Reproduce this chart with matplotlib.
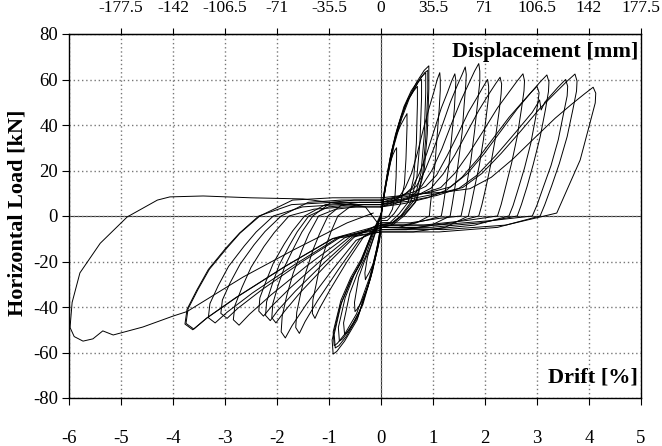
import numpy as np
import matplotlib.pyplot as plt

plt.rcParams['font.family'] = ['Liberation Serif', 'DejaVu Serif']
plt.rcParams['axes.unicode_minus'] = False

# axis ticks
drift_ticks = [-6, -5, -4, -3, -2, -1, 0, 1, 2, 3, 4, 5]
load_ticks = [-80, -60, -40, -20, 0, 20, 40, 60, 80]
mm_ticks = [-177.5, -142, -106.5, -71, -35.5, 0, 35.5, 71, 106.5, 142, 177.5]
mm_labels = ['-177.5', '-142', '-106.5', '-71', '-35.5', '0', '35.5', '71', '106.5', '142', '177.5']
mm_per_drift = 35.5

# small cycles (drift %, load kN)
cyc_s1 = [(0, 0), (0.03, 6), (0.08, 13), (0.12, 18), (0.17, 23), (0.23, 27), (0.27, 29), (0.3, 30),
          (0.3, 26), (0.29, 17), (0.27, 9), (0.22, 3), (0.15, 0), (0.07, -1), (0, -1),
          (-0.01, -5), (-0.07, -13), (-0.15, -21), (-0.23, -25), (-0.28, -27), (-0.3, -28),
          (-0.31, -25), (-0.26, -18), (-0.19, -13), (-0.13, -9), (-0.06, -4), (0, 0)]
cyc_s2 = [(0, 0), (0.05, 9), (0.13, 20), (0.2, 28), (0.28, 35), (0.38, 40), (0.45, 43), (0.5, 45),
          (0.5, 39), (0.48, 25), (0.45, 14), (0.37, 5), (0.25, 1), (0.12, -2), (0, -2),
          (-0.02, -7), (-0.12, -19), (-0.25, -31), (-0.38, -38), (-0.46, -41), (-0.5, -42),
          (-0.51, -38), (-0.43, -27), (-0.32, -20), (-0.21, -14), (-0.1, -6), (0, 0)]
cyc_s3 = [(0, 0), (0.07, 11), (0.17, 25), (0.28, 36), (0.39, 44), (0.52, 51), (0.63, 55), (0.7, 57),
          (0.7, 49), (0.68, 32), (0.63, 17), (0.52, 6), (0.35, 1), (0.17, -3), (0, -3),
          (-0.02, -9), (-0.16, -24), (-0.35, -39), (-0.53, -47), (-0.65, -51), (-0.7, -52),
          (-0.72, -47), (-0.6, -34), (-0.45, -25), (-0.3, -18), (-0.15, -8), (0, 0)]
cyc_s7 = [(0, -1), (0.08, 12), (0.2, 28), (0.32, 39), (0.44, 48), (0.58, 55), (0.7, 59), (0.78, 60),
          (0.78, 52), (0.75, 33), (0.69, 17), (0.57, 6), (0.38, 0), (0.19, -4), (0, -5),
          (-0.03, -11), (-0.19, -26), (-0.41, -42), (-0.61, -50), (-0.74, -54), (-0.8, -55),
          (-0.82, -49), (-0.69, -36), (-0.52, -26), (-0.35, -19), (-0.17, -8), (0, 0)]
cyc_s4 = [(0, 0), (0.08, 12), (0.21, 28), (0.34, 40), (0.47, 49), (0.64, 56), (0.77, 61), (0.86, 63),
          (0.86, 54), (0.83, 35), (0.77, 19), (0.64, 7), (0.43, 1), (0.21, -3), (0, -4),
          (-0.03, -10), (-0.2, -27), (-0.44, -44), (-0.67, -53), (-0.81, -57), (-0.88, -58),
          (-0.9, -52), (-0.76, -38), (-0.57, -28), (-0.38, -20), (-0.19, -9), (0, 0)]
cyc_s5 = [(0, 0), (0.09, 13), (0.23, 30), (0.37, 42), (0.51, 51), (0.69, 59), (0.83, 64), (0.92, 66),
          (0.92, 56), (0.89, 36), (0.83, 20), (0.69, 7), (0.46, 1), (0.23, -3), (0, -4),
          (-0.03, -10), (-0.06, -14), (-0.21, -28), (-0.46, -45.7), (-0.7, -55), (-0.85, -59.5), (-0.92, -60.7),
          (-0.94, -54.5), (-0.79, -40), (-0.6, -29), (-0.4, -20.7), (-0.2, -9), (0, 0)]
cyc_s6 = [(0, 1), (0.1, 14), (0.25, 31), (0.4, 43), (0.55, 52), (0.72, 59), (0.84, 63), (0.9, 64),
          (0.9, 55), (0.86, 34), (0.8, 18), (0.66, 6), (0.44, 0), (0.22, -4), (0, -5),
          (-0.04, -11), (-0.22, -27), (-0.47, -43), (-0.7, -52), (-0.84, -56), (-0.9, -57),
          (-0.92, -51), (-0.77, -37), (-0.58, -27), (-0.38, -19), (-0.18, -8), (0, 1)]

# large cycles
cyc_1 = [(0, 4), (0.17, 5.5), (0.34, 8), (0.47, 12.6), (0.59, 18.9), (0.7, 27.7), (0.81, 37.8), (0.93, 47.9),
         (1.02, 54.8), (1.08, 59.9), (1.13, 63),
         (1.14, 59.9), (1.14, 55.4), (1.12, 47.3), (1.08, 35.3), (1.04, 23.3), (0.99, 13.2), (0.95, 5), (0.93, 0),
         (0.68, -3), (0.34, -5), (0, -5),
         (-0.33, -9), (-0.66, -20.3), (-0.98, -32.4), (-1.18, -40.5), (-1.27, -45),
         (-1.32, -42.8), (-1.31, -36.9), (-1.24, -29.3), (-1.17, -21.2), (-1.05, -12.6), (-0.96, -6.8), (-0.83, 0),
         (-0.6, 4), (-0.33, 5), (0, 5)]
cyc_2 = [(0, 5), (0.21, 6.5), (0.43, 9), (0.6, 12.5), (0.74, 18.8), (0.88, 27.5), (1.02, 37.5), (1.16, 47.5),
         (1.28, 54.4), (1.36, 59.4), (1.42, 62.5),
         (1.44, 59.4), (1.43, 55), (1.41, 46.9), (1.36, 35), (1.31, 23.1), (1.25, 13.1), (1.2, 5), (1.16, 0),
         (0.85, -2), (0.43, -4), (0, -4),
         (-0.41, -10.3), (-0.81, -23.2), (-1.22, -37.2), (-1.46, -46.4), (-1.57, -51.6),
         (-1.64, -49), (-1.62, -42.3), (-1.54, -33.5), (-1.44, -24.3), (-1.3, -14.4), (-1.18, -7.7), (-1.02, 0),
         (-0.75, 5), (-0.41, 6), (0, 6)]
cyc_3 = [(0, 6), (0.24, 7.5), (0.49, 10), (0.68, 13.1), (0.84, 19.7), (1.0, 28.8), (1.17, 39.3), (1.33, 49.8),
         (1.46, 57), (1.56, 62.2), (1.62, 65.5),
         (1.64, 62.2), (1.63, 57.6), (1.6, 49.1), (1.56, 36.7), (1.49, 24.2), (1.43, 13.8), (1.37, 5.2), (1.33, 0),
         (0.97, -4), (0.49, -6), (0, -6),
         (-0.48, -10.7), (-0.95, -24.1), (-1.43, -38.6), (-1.71, -48.2), (-1.84, -53.6),
         (-1.92, -50.9), (-1.9, -44), (-1.81, -34.8), (-1.69, -25.2), (-1.52, -15), (-1.39, -8), (-1.2, 0),
         (-0.87, 3), (-0.48, 4), (0, 4)]
cyc_4 = [(0, 4), (0.28, 5.5), (0.56, 8), (0.79, 13.4), (0.98, 20.1), (1.17, 29.5), (1.35, 40.2), (1.54, 50.9),
         (1.69, 58.3), (1.8, 63.7), (1.88, 67),
         (1.9, 63.7), (1.9, 59), (1.86, 50.3), (1.8, 37.5), (1.73, 24.8), (1.65, 14.1), (1.59, 5.4), (1.54, 0),
         (1.13, -1), (0.56, -3), (0, -3),
         (-0.52, -9.4), (-1.04, -21.2), (-1.56, -33.8), (-1.87, -42.3), (-2.02, -47),
         (-2.1, -44.7), (-2.08, -38.5), (-1.98, -30.6), (-1.85, -22.1), (-1.66, -13.2), (-1.52, -7), (-1.31, 0),
         (-0.96, 6), (-0.52, 7), (0, 7)]
cyc_r1 = [(0, 7), (0.31, 8.5), (0.62, 10.5), (0.86, 13), (1.07, 18), (1.27, 26.4), (1.48, 36), (1.68, 45.6),
          (1.85, 52.2), (1.97, 57), (2.05, 60),
          (2.07, 57), (2.07, 52.8), (2.03, 45), (1.97, 33.6), (1.89, 22.2), (1.8, 12.6), (1.73, 4.8), (1.68, 0),
          (1.23, -5), (0.62, -7), (0, -7),
          (-0.55, -9.2), (-1.1, -20.7), (-1.65, -33.1), (-1.98, -41.4), (-2.13, -46),
          (-2.22, -43.7), (-2.2, -37.7), (-2.09, -29.9), (-1.96, -21.6), (-1.76, -12.9), (-1.61, -6.9), (-1.39, 0),
          (-1.01, 4), (-0.55, 5), (0, 5)]
cyc_5 = [(0, 5), (0.34, 6.5), (0.69, 9), (0.96, 12.2), (1.19, 18.3), (1.42, 26.8), (1.65, 36.6), (1.88, 46.4),
         (2.06, 53.1), (2.2, 58), (2.29, 61),
         (2.32, 58), (2.31, 53.7), (2.27, 45.8), (2.2, 34.2), (2.11, 22.6), (2.02, 12.8), (1.94, 4.9), (1.88, 0),
         (1.37, -3), (0.69, -5), (0, -5),
         (-0.58, -8.8), (-1.17, -19.8), (-1.75, -31.7), (-2.1, -39.6), (-2.26, -44),
         (-2.35, -41.8), (-2.33, -36), (-2.21, -28.6), (-2.07, -20.7), (-1.86, -12.3), (-1.7, -6.6), (-1.47, 0),
         (-1.07, 5), (-0.58, 6), (0, 6)]
cyc_6 = [(0, 6), (0.41, 7.5), (0.82, 10), (1.15, 12.5), (1.42, 18.8), (1.69, 27.5), (1.97, 37.5), (2.24, 47.5),
         (2.46, 54.4), (2.62, 59.4), (2.73, 62.5),
         (2.76, 59.4), (2.75, 55), (2.7, 46.9), (2.62, 35), (2.51, 23.1), (2.4, 13.1), (2.31, 5), (2.24, 0),
         (1.64, -2), (0.82, -4), (0, -4),
         (-0.7, -9.6), (-1.41, -21.6), (-2.11, -34.6), (-2.53, -43.2), (-2.73, -48),
         (-2.84, -45.6), (-2.81, -39.4), (-2.67, -31.2), (-2.5, -22.6), (-2.25, -13.4), (-2.05, -7.2), (-1.77, 0),
         (-1.29, 3), (-0.7, 4), (0, 4)]
cyc_r2 = [(0, 4), (0.45, 5.5), (0.9, 8), (1.26, 11.4), (1.56, 17.1), (1.86, 25.1), (2.16, 34.2), (2.46, 43.3),
          (2.7, 49.6), (2.88, 54.2), (3.0, 57),
          (3.04, 54.2), (3.02, 50.2), (2.97, 42.8), (2.88, 31.9), (2.76, 21.1), (2.64, 12), (2.54, 4.6), (2.46, 0),
          (1.8, -4), (0.9, -6), (0, -6),
          (-0.76, -9), (-1.53, -20.3), (-2.29, -32.4), (-2.75, -40.5), (-2.96, -45),
          (-3.08, -42.8), (-3.05, -36.9), (-2.9, -29.3), (-2.71, -21.2), (-2.44, -12.6), (-2.23, -6.8), (-1.92, 0),
          (-1.4, 6), (-0.76, 7), (0, 7)]
cyc_7 = [(0, 7), (0.48, 8.5), (0.96, 10.5), (1.34, 12.8), (1.66, 18.6), (1.98, 27.3), (2.3, 37.2), (2.62, 47.1),
         (2.87, 53.9), (3.06, 58.9), (3.19, 62),
         (3.23, 58.9), (3.22, 54.6), (3.16, 46.5), (3.06, 34.7), (2.93, 22.9), (2.81, 13), (2.7, 5), (2.62, 0),
         (1.91, -3), (0.96, -5), (0, -5),
         (-0.82, -9.4), (-1.65, -21.2), (-2.47, -33.8), (-2.96, -42.3), (-3.19, -47),
         (-3.32, -44.7), (-3.29, -38.5), (-3.13, -30.6), (-2.93, -22.1), (-2.63, -13.2), (-2.4, -7), (-2.07, 0),
         (-1.51, 4), (-0.82, 5), (0, 5)]
cyc_8 = [(0, 6), (0.56, 7.5), (1.12, 10), (1.57, 12.5), (1.94, 18.7), (2.31, 27.5), (2.69, 37.4), (3.06, 47.4),
         (3.36, 54.3), (3.58, 59.3), (3.73, 62.4),
         (3.77, 59.3), (3.76, 54.9), (3.69, 46.8), (3.58, 34.9), (3.43, 23.1), (3.28, 13.1), (3.15, 5), (3.06, 0),
         (2.24, -5), (1.12, -7), (0, -7),
         (-0.93, -10), (-1.87, -22.5), (-2.8, -36), (-3.36, -45), (-3.62, -50),
         (-3.77, -47.5), (-3.73, -41), (-3.54, -32.5), (-3.32, -23.5), (-2.98, -14), (-2.72, -7.5), (-2.35, 0),
         (-1.72, 5), (-0.93, 6), (0, 6)]
cyc_9 = [(0, 5), (0.53, 6.5), (1.07, 9), (1.49, 12), (1.85, 18), (2.2, 26.4), (2.56, 36), (2.91, 45.6),
         (3.0, 49), (3.05, 51), (3.08, 46.6), (3.15, 50), (3.4, 56.5), (3.55, 60),
         (3.59, 57), (3.58, 52.8), (3.51, 45), (3.41, 33.6), (3.27, 22.2), (3.12, 12.6), (3.0, 4.8), (2.91, 0),
         (2.13, -2), (1.07, -4), (0, -4),
         (-0.93, -9.9), (-1.86, -22.4), (-2.78, -35.8), (-3.34, -44.7), (-3.6, -49.7),
         (-3.75, -47.2), (-3.71, -40.8), (-3.52, -32.3), (-3.3, -23.4), (-2.96, -14), (-2.71, -7.5), (-2.33, 0),
         (-1.7, 7), (-0.93, 8), (0, 8)]
# last cycle: +4.1 % then the -6 % excursion
cyc_10 = [(0, 8), (0.61, 9.5), (1.22, 10.5), (1.71, 12), (2.12, 17), (2.53, 24.9), (2.94, 34), (3.35, 43),
          (3.67, 49.2), (3.92, 53.8), (4.08, 56.6),
          (4.13, 54), (4.12, 49.7), (4.02, 41), (3.83, 24.6), (3.6, 12.7), (3.38, 1.3),
          (2.4, -4), (1.2, -6), (0, -5), (-0.3, 4),
          (-1.5, 7.5), (-2.5, 8), (-3.42, 8.8), (-4.06, 8.4), (-4.3, 7), (-4.88, -0.4), (-5.4, -12),
          (-5.79, -25), (-5.94, -38), (-5.98, -49), (-5.9, -53), (-5.73, -55), (-5.54, -54), (-5.35, -50.5),
          (-5.15, -52.3), (-4.58, -48.8), (-4.0, -44), (-3.73, -42), (-2.65, -26.8), (-1.69, -15),
          (-0.65, -3), (-0.15, 1.3)]

cycles = [cyc_s1, cyc_s2, cyc_s3, cyc_s7, cyc_s4, cyc_s5, cyc_s6,
          cyc_1, cyc_2, cyc_3, cyc_4, cyc_r1, cyc_5, cyc_6, cyc_r2, cyc_7, cyc_8, cyc_9, cyc_10]

fig = plt.figure(figsize=(6.62, 4.46), dpi=100)
ax = fig.add_axes([69 / 662, 1 - 398 / 446, 572 / 662, 364 / 446])

ax.grid(True, color='#777777', linestyle=(0, (1, 2)), linewidth=1.0)
ax.axhline(0, color='#333333', lw=0.8, zorder=1)
ax.axvline(0, color='#333333', lw=0.8, zorder=1)

for cyc in cycles:
    xs, ys = zip(*cyc)
    ax.plot(xs, ys, color='black', lw=0.7, zorder=3)

ax.set_xlim(-6, 5)
ax.set_ylim(-80, 80)
ax.set_xticks(drift_ticks)
ax.set_yticks(load_ticks)
ax.tick_params(axis='x', direction='out', length=5, width=0.8, pad=18, labelsize=13.5)
ax.tick_params(axis='y', direction='out', length=5, width=0.8, pad=3, labelsize=13.5)
for s in ax.spines.values():
    s.set_linewidth(1.0)

top = ax.secondary_xaxis('top', functions=(lambda d: d * mm_per_drift, lambda m: m / mm_per_drift))
top.set_xticks(mm_ticks)
top.set_xticklabels(mm_labels)
top.tick_params(direction='out', length=4, width=0.8, pad=9, labelsize=12.5)

ax.text(0.995, 0.95, 'Displacement [mm]', transform=ax.transAxes, ha='right', va='center',
        fontsize=16, fontweight='bold')
ax.text(0.995, 0.055, 'Drift [%]', transform=ax.transAxes, ha='right', va='center',
        fontsize=16, fontweight='bold')
fig.text(18 / 662, 1 - 213 / 446, 'Horizontal Load [kN]', rotation=90, ha='center', va='center',
         fontsize=16, fontweight='bold')

fig.savefig('out.png', dpi=100)
